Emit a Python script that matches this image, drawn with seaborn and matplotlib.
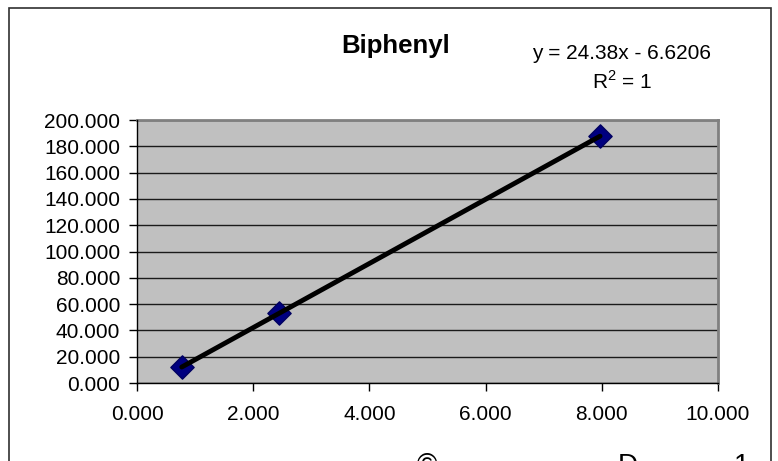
import matplotlib
matplotlib.use("Agg")
import matplotlib.pyplot as plt
import seaborn as sns
import pandas as pd
from matplotlib.patches import Rectangle
from matplotlib.ticker import FormatStrFormatter, MultipleLocator

# data
conc = [0.77, 2.44, 7.97]
area = [12.1, 52.9, 187.7]
title = "Biphenyl"
eq_line1 = "y = 24.38x - 6.6206"
eq_line2 = "R$^2$ = 1"

df = pd.DataFrame({"x": conc, "y": area})

sns.set_style("white")
plt.rcParams['font.family'] = ['Liberation Sans', 'DejaVu Sans']
plt.rcParams['mathtext.fontset'] = 'custom'
plt.rcParams['mathtext.rm'] = 'Liberation Sans'
plt.rcParams['text.color'] = 'black'
plt.rcParams['xtick.color'] = 'black'
plt.rcParams['ytick.color'] = 'black'

W, H = 778, 461
fig = plt.figure(figsize=(W / 100, H / 100), dpi=100)
fig.patch.set_facecolor("white")

L, R, T, B = 137, 718, 120, 383
ax = fig.add_axes([L / W, 1 - B / H, (R - L) / W, (B - T) / H])
ax.set_facecolor("#C0C0C0")

sns.regplot(data=df, x="x", y="y", ax=ax, ci=None, truncate=True,
            marker="D",
            scatter_kws=dict(s=140, color="#000080", edgecolor="#000060",
                             linewidths=1, alpha=1, zorder=3),
            line_kws=dict(color="black", lw=3.5, zorder=4))

ax.set_xlim(0, 10)
ax.set_ylim(0, 200)
ax.xaxis.set_major_locator(MultipleLocator(2))
ax.yaxis.set_major_locator(MultipleLocator(20))
ax.xaxis.set_major_formatter(FormatStrFormatter("%.3f"))
ax.yaxis.set_major_formatter(FormatStrFormatter("%.3f"))
ax.set_xlabel("")
ax.set_ylabel("")

ax.grid(axis="y", color="#1a1a1a", lw=1.0)
ax.grid(axis="x", visible=False)
ax.set_axisbelow(True)

for side in ["top", "right"]:
    ax.spines[side].set_color("#808080")
    ax.spines[side].set_linewidth(2)
for side in ["left", "bottom"]:
    ax.spines[side].set_color("black")
    ax.spines[side].set_linewidth(1)
    ax.spines[side].set_zorder(5)

ax.tick_params(axis="both", direction="out", length=6, width=1, color="black",
               labelcolor="black", labelsize=15, left=True, bottom=True)
ax.tick_params(axis="y", pad=6)
ax.tick_params(axis="x", pad=10)

# title and equation
fig.text(396 / W, 1 - 46 / H, title, ha="center", va="center",
         fontsize=18.5, fontweight="bold", color="black")
fig.text(622 / W, 1 - 59 / H, eq_line1, ha="center", va="baseline",
         fontsize=15, color="black")
fig.text(622 / W, 1 - 89 / H, eq_line2, ha="center", va="baseline",
         fontsize=15, color="black")

# partially cut glyphs at bottom edge (as in the reference)
for xpos, s in [(427, "©"), (628, "D"), (742, "1")]:
    fig.text(xpos / W, 1 - 453 / H, s, ha="center", va="top", fontsize=20,
             color="black")

# chart border
fig.patches.append(Rectangle((9 / W, -0.05), (771 - 9) / W, 1.05 - 8 / H,
                             transform=fig.transFigure, fill=False,
                             edgecolor="#303030", lw=1.2))

fig.savefig("out.png", dpi=100)
